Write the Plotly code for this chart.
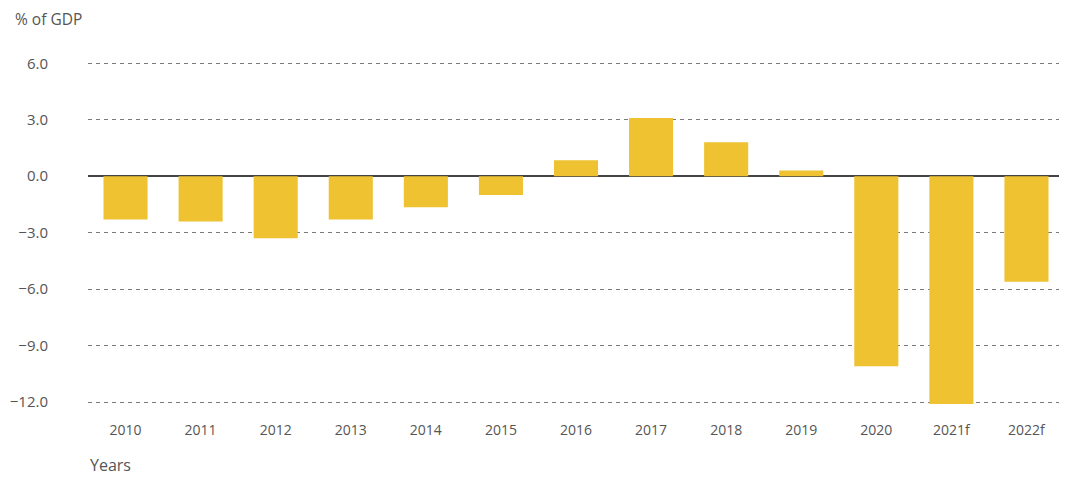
import plotly.graph_objects as go

years = ["2010", "2011", "2012", "2013", "2014", "2015", "2016", "2017", "2018", "2019", "2020", "2021f", "2022f"]
balance = [-2.3, -2.4, -3.3, -2.3, -1.65, -1.0, 0.85, 3.1, 1.8, 0.3, -10.1, -12.1, -5.6]
y_ticks = [-12, -9, -6, -3, 0, 3, 6]

FONT = "Open Sans"
fig = go.Figure()
fig.add_trace(go.Bar(x=years, y=balance, marker=dict(color="#EEC231", line=dict(width=0)), hoverinfo="x+y"))

fig.update_layout(
    width=1059, height=469,
    margin=dict(l=80, r=3, t=44, b=73, autoexpand=False),
    paper_bgcolor="white", plot_bgcolor="white",
    bargap=0.413,
    showlegend=False,
    font=dict(family=FONT, color="#555555"),
    xaxis=dict(
        type="category", showgrid=False, zeroline=False, showline=False, automargin=False,
        ticks="", tickfont=dict(size=14, color="#555555"), ticklabelstandoff=16,
    ),
    yaxis=dict(
        range=[-12.1, 6.6], tickvals=y_ticks, tickformat=".1f", automargin=False,
        showgrid=True, gridcolor="#7a7a7a", gridwidth=1, griddash="4px,4px",
        zeroline=True, zerolinecolor="#444444", zerolinewidth=2,
        showline=False, ticks="", tickfont=dict(size=15, color="#555555"),
        ticklabelstandoff=39,
    ),
    annotations=[
        dict(text="% of GDP", xref="paper", yref="paper", x=-0.0768, y=1.094,
             xanchor="left", yanchor="middle", showarrow=False,
             font=dict(size=15.5, color="#555555", family=FONT)),
        dict(text="Years", xref="paper", yref="paper", x=0.0, y=-0.172,
             xanchor="left", yanchor="middle", showarrow=False,
             font=dict(size=16, color="#555555", family=FONT)),
    ],
)

fig.write_html("out.html")
